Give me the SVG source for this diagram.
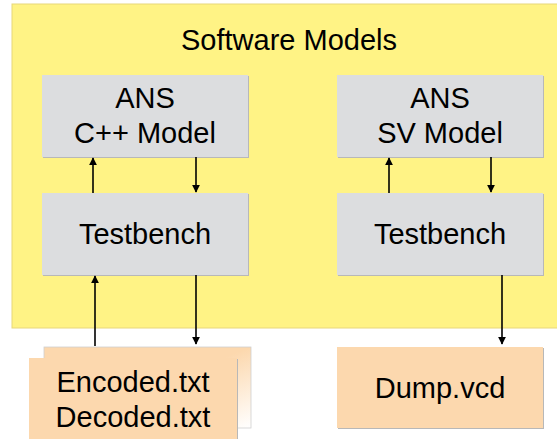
<svg xmlns="http://www.w3.org/2000/svg" width="557" height="439" viewBox="0 0 557 439">
<defs>
<style>
.t{font-family:"Liberation Sans",Arial,sans-serif;font-size:29px;fill:#000;text-anchor:middle}
.box{fill:#dcdddf}
.sh{fill:#b8b8b8}
.doc{fill:#fcd8ae}
.ln{stroke:#000;stroke-width:1.6;fill:none;marker-end:url(#ah)}
</style>
<marker id="ah" viewBox="0 0 10 10" refX="9" refY="5" markerWidth="8" markerHeight="8" markerUnits="userSpaceOnUse" orient="auto">
<path d="M0,0 L10,5 L0,10 z" fill="#000"/>
</marker>
<linearGradient id="g" x1="0" y1="0" x2="1" y2="1">
<stop offset="0.5" stop-color="#fcd8ae"/>
<stop offset="1" stop-color="#ffffff"/>
</linearGradient>
</defs>
<g id="container">
<rect x="12" y="4" width="550" height="324" fill="#fff385" stroke="#e8d77a" stroke-width="1"/>
<text class="t" x="289" y="50">Software Models</text>
</g>
<g id="cpp_model">
<rect class="sh" x="43" y="76" width="206" height="82"/>
<rect class="box" x="42" y="75" width="206" height="82"/>
<text class="t" x="145" y="108">ANS</text>
<text class="t" x="145" y="143">C++ Model</text>
</g>
<g id="tb_left">
<rect class="sh" x="43" y="194" width="206" height="82"/>
<rect class="box" x="42" y="193" width="206" height="82"/>
<text class="t" x="145" y="244">Testbench</text>
</g>
<g id="sv_model">
<rect class="sh" x="338" y="76" width="206" height="82"/>
<rect class="box" x="337" y="75" width="206" height="82"/>
<text class="t" x="440" y="108">ANS</text>
<text class="t" x="440" y="143">SV Model</text>
</g>
<g id="tb_right">
<rect class="sh" x="338" y="194" width="206" height="82"/>
<rect class="box" x="337" y="193" width="206" height="82"/>
<text class="t" x="440" y="244">Testbench</text>
</g>
<g id="files">
<rect x="44" y="347" width="207" height="81" fill="url(#g)" stroke="#d0d0d0" stroke-width="0.8"/>
<rect class="sh" x="30" y="359" width="208" height="82"/>
<rect class="doc" x="29" y="358" width="208" height="82"/>
<text class="t" x="133" y="392">Encoded.txt</text>
<text class="t" x="133" y="427">Decoded.txt</text>
</g>
<g id="dump">
<rect class="sh" x="338" y="348" width="206" height="81"/>
<rect class="doc" x="337" y="347" width="206" height="81"/>
<text class="t" x="440" y="398">Dump.vcd</text>
</g>
<g id="connectors">
<line class="ln" x1="93" y1="193" x2="93" y2="158"/>
<line class="ln" x1="196" y1="157" x2="196" y2="192"/>
<line class="ln" x1="389" y1="193" x2="389" y2="158"/>
<line class="ln" x1="491" y1="157" x2="491" y2="192"/>
<line class="ln" x1="95" y1="346" x2="95" y2="276"/>
<line class="ln" x1="196" y1="275" x2="196" y2="344"/>
<line class="ln" x1="502" y1="275" x2="502" y2="344"/>
</g>
</svg>
